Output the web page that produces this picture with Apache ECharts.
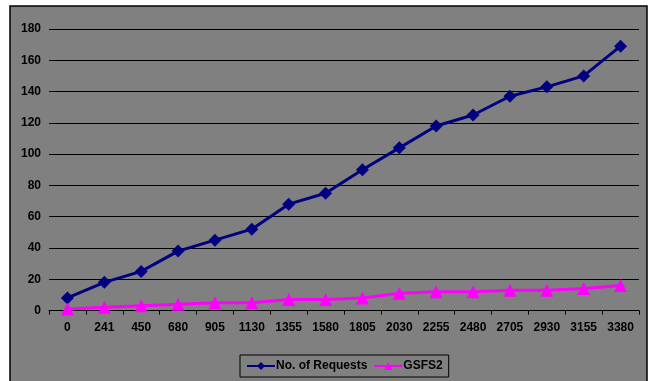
<!DOCTYPE html>
<html>
<head>
<meta charset="utf-8">
<script src="https://cdn.jsdelivr.net/npm/echarts@6/dist/echarts.min.js"></script>
<style>
  html, body { margin: 0; padding: 0; background: #ffffff; }
  #chart { width: 652px; height: 381px; }
</style>
</head>
<body>
<div id="chart"></div>
<script>
// Number of clients on the x axis
const categories = ['0', '241', '450', '680', '905', '1130', '1355', '1580', '1805',
  '2030', '2255', '2480', '2705', '2930', '3155', '3380'];

// Series values
const requests = [8, 18, 25, 38, 45, 52, 68, 75, 90, 104, 118, 125, 137, 143, 150, 169];
const gsfs2 = [1, 2, 3, 4, 5, 5, 7, 7, 8, 11, 12, 12, 13, 13, 14, 16];

// Value axis range
const yMin = 0;
const yMax = 180;
const yStep = 20;

const labelFont = { fontFamily: 'Liberation Sans, Arial, sans-serif', fontWeight: 'bold', fontSize: 12, color: '#000000' };

const chart = echarts.init(document.getElementById('chart'), null, { renderer: 'canvas' });

chart.setOption({
  backgroundColor: '#ffffff',
  animation: false,
  graphic: [{
    type: 'rect',
    z: -10,
    shape: { x: 10, y: 6, width: 637, height: 390 },
    style: { fill: '#808080', stroke: '#000000', lineWidth: 1.5 }
  }],
  grid: { left: 49, right: 13, top: 29, bottom: 70.5, containLabel: false },
  legend: {
    left: 240,
    top: 355,
    width: 207,
    padding: [5, 6, 5, 6],
    borderColor: '#000000',
    borderWidth: 1,
    itemWidth: 28,
    itemHeight: 10,
    itemGap: 6,
    textStyle: Object.assign({}, labelFont, { fontSize: 12, padding: [0, 0, 0, -4] }),
    data: ['No. of Requests', 'GSFS2']
  },
  xAxis: {
    type: 'category',
    data: categories,
    boundaryGap: true,
    axisLine: { show: true, lineStyle: { color: '#000000', width: 1 } },
    axisTick: { show: true, length: 4, inside: false, lineStyle: { color: '#000000' } },
    axisLabel: Object.assign({ margin: 11, interval: 0 }, labelFont),
    splitLine: { show: false }
  },
  yAxis: {
    type: 'value',
    min: yMin,
    max: yMax,
    interval: yStep,
    axisLine: { show: false },
    axisTick: { show: false },
    axisLabel: Object.assign({ margin: 8 }, labelFont),
    splitLine: { show: true, lineStyle: { color: '#000000', width: 1 } }
  },
  series: [
    {
      name: 'No. of Requests',
      type: 'line',
      data: requests,
      symbol: 'diamond',
      symbolSize: 13,
      showAllSymbol: true,
      lineStyle: { color: '#000080', width: 3 },
      itemStyle: { color: '#000080' }
    },
    {
      name: 'GSFS2',
      type: 'line',
      data: gsfs2,
      symbol: 'triangle',
      symbolSize: 13,
      showAllSymbol: true,
      lineStyle: { color: '#ff00ff', width: 3 },
      itemStyle: { color: '#ff00ff' }
    }
  ]
});
</script>
</body>
</html>
